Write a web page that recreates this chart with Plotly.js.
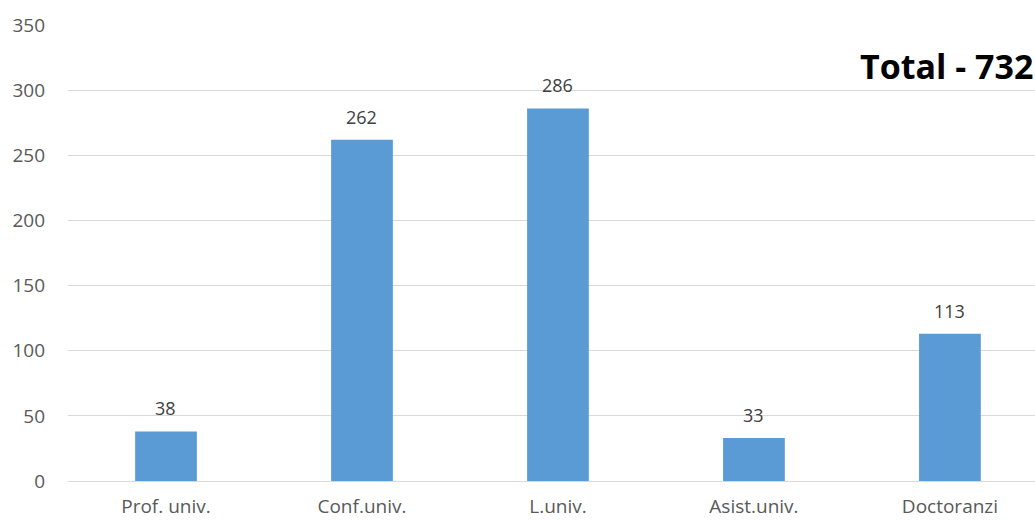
<!DOCTYPE html>
<html>
<head>
<meta charset="utf-8">
<script src="https://cdn.plot.ly/plotly-3.0.1.min.js"></script>
<style>html,body{margin:0;padding:0;background:#fff;}#chart{width:1035px;height:522px;}</style>
</head>
<body>
<div id="chart"></div>
<script>
const categories = ["Prof. univ.", "Conf.univ.", "L.univ.", "Asist.univ.", "Doctoranzi"];
const values = [38, 262, 286, 33, 113];
const yTicks = [0, 50, 100, 150, 200, 250, 300, 350];
const totalLabel = "Total - 732";

const fontFam = "'Open Sans', 'Noto Sans', sans-serif";
const annotations = categories.map((c, i) => ({
  x: c, y: values[i], xref: 'x', yref: 'y',
  text: String(values[i]), showarrow: false,
  yanchor: 'bottom', yshift: 9,
  font: {family: fontFam, size: 18, color: '#404040'}
}));
annotations.push({
  xref: 'paper', yref: 'paper', x: 1, y: 0.91, xanchor: 'right', yanchor: 'middle',
  text: '<b>' + totalLabel + '</b>', showarrow: false,
  font: {family: fontFam, size: 34, color: '#000000'}
});

Plotly.newPlot('chart', [{
  type: 'bar', x: categories, y: values,
  marker: {color: '#5B9BD5'}, width: 0.315,
  hoverinfo: 'none'
}], {
  width: 1035, height: 522,
  margin: {l: 68, r: 0, t: 25, b: 41, pad: 0},
  paper_bgcolor: '#ffffff', plot_bgcolor: '#ffffff',
  showlegend: false,
  xaxis: {
    type: 'category', range: [-0.5, 4.434], showgrid: false, zeroline: false,
    showline: false, ticks: '', ticklabelstandoff: 12,
    tickfont: {family: fontFam, size: 19, color: '#595959'}
  },
  yaxis: {
    range: [0, 350], tickvals: yTicks, showgrid: true, gridcolor: '#d9d9d9', gridwidth: 1,
    zeroline: true, zerolinecolor: '#d9d9d9', zerolinewidth: 1, showline: false, ticks: '',
    ticklabelstandoff: 22,
    tickfont: {family: fontFam, size: 19, color: '#595959'}
  },
  annotations: annotations
}, {staticPlot: true});
</script>
</body>
</html>
